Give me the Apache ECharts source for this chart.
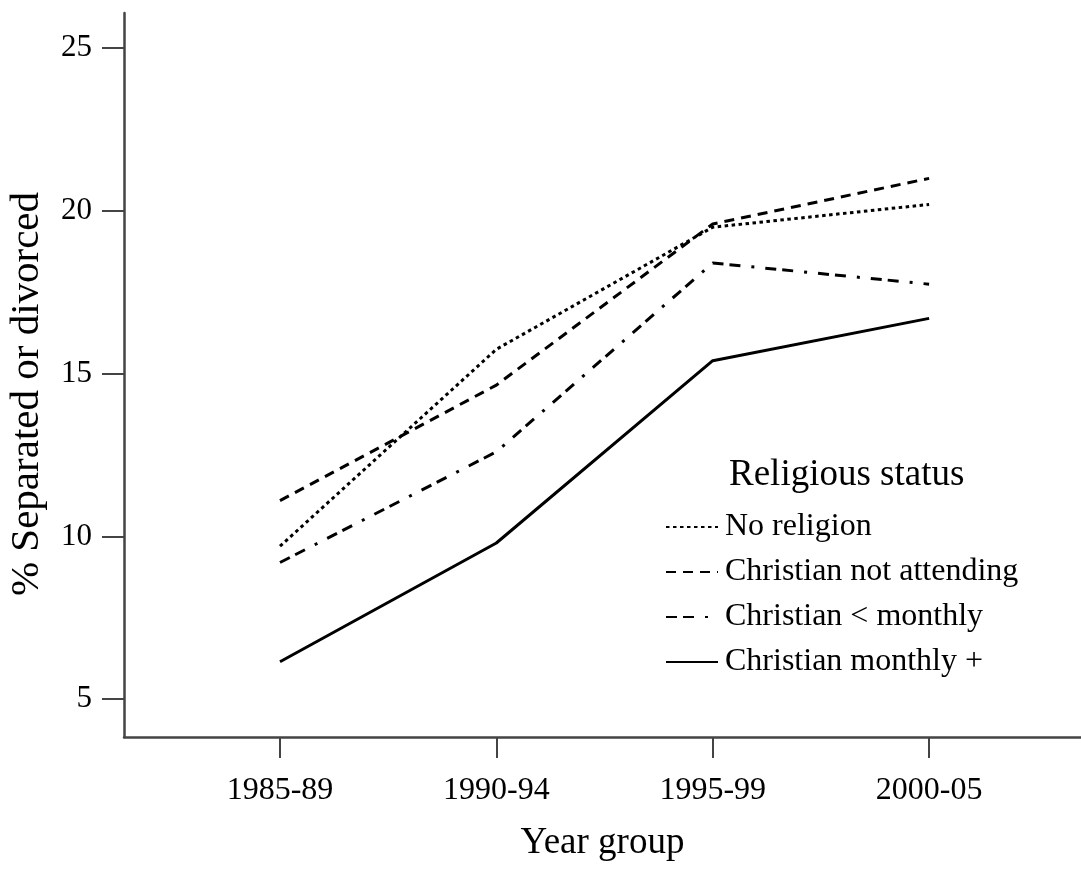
<!DOCTYPE html>
<html>
<head>
<meta charset="utf-8">
<script src="https://cdn.jsdelivr.net/npm/echarts@6/dist/echarts.min.js"></script>
<style>
  html, body { margin: 0; padding: 0; background: #fff; }
  #main { width: 1081px; height: 871px; }
</style>
</head>
<body>
<div id="main"></div>
<script>
var yearGroups = ['1985-89', '1990-94', '1995-99', '2000-05'];
var noReligion = [9.7, 15.75, 19.5, 20.2];
var christianNotAttending = [11.1, 14.65, 19.6, 21.0];
var christianLessMonthly = [9.2, 12.6, 18.4, 17.75];
var christianMonthlyPlus = [6.15, 9.8, 15.4, 16.7];
var yTicks = [5, 10, 15, 20, 25];

var font = 'Liberation Serif';
var myChart = echarts.init(document.getElementById('main'));

function pts(arr) {
    return arr.map(function (v, i) { return [i, v]; });
}

function line(name, arr, type) {
    return {
        name: name,
        type: 'line',
        data: pts(arr),
        symbol: 'none',
        color: '#000',
        lineStyle: { color: '#000', width: 3, type: type },
        emphasis: { disabled: true }
    };
}

var option = {
    backgroundColor: '#fff',
    animation: false,
    title: {
        text: 'Religious status',
        left: 724,
        top: 452,
        textStyle: { fontFamily: font, fontSize: 37, fontWeight: 'normal', color: '#000' }
    },
    legend: {
        orient: 'vertical',
        left: 660,
        top: 504,
        itemWidth: 52,
        itemHeight: 14,
        itemGap: 9,
        selectedMode: false,
        itemStyle: { color: 'rgba(0,0,0,0)', borderWidth: 0 },
        textStyle: { fontFamily: font, fontSize: 32, color: '#000', lineHeight: 36, padding: [0, 0, 0, 2] },
        data: ['No religion', 'Christian not attending', 'Christian < monthly', 'Christian monthly +']
    },
    grid: { left: 124, top: 13, right: 0, bottom: 134, outerBoundsMode: 'none' },
    xAxis: {
        type: 'value',
        min: -0.721,
        max: 3.702,
        name: 'Year group',
        nameLocation: 'middle',
        nameGap: 88,
        nameTextStyle: { fontFamily: font, fontSize: 37, color: '#000' },
        splitLine: { show: false },
        axisLine: { onZero: false, lineStyle: { color: '#444', width: 2.5 } },
        axisTick: { show: true, length: 21, customValues: [0, 1, 2, 3], lineStyle: { color: '#444', width: 2 } },
        axisLabel: {
            customValues: [0, 1, 2, 3],
            margin: 38,
            fontFamily: font,
            fontSize: 32,
            color: '#000',
            formatter: function (v) { return yearGroups[Math.round(v)]; }
        }
    },
    yAxis: {
        type: 'value',
        min: 3.84,
        max: 26.08,
        name: '% Separated or divorced',
        nameLocation: 'middle',
        nameRotate: 90,
        nameGap: 76,
        nameTextStyle: { fontFamily: font, fontSize: 41, color: '#000', padding: [0, 38, 0, 0] },
        splitLine: { show: false },
        axisLine: { show: true, onZero: false, lineStyle: { color: '#444', width: 2.5 } },
        axisTick: { show: true, length: 22, customValues: yTicks, lineStyle: { color: '#444', width: 2 } },
        axisLabel: {
            customValues: yTicks,
            margin: 32,
            fontFamily: font,
            fontSize: 31,
            color: '#000'
        }
    },
    series: [
        line('No religion', noReligion, [3.5, 3.5]),
        line('Christian not attending', christianNotAttending, [10, 7]),
        line('Christian < monthly', christianLessMonthly, [11, 6, 11, 11, 3, 11]),
        line('Christian monthly +', christianMonthlyPlus, 'solid')
    ]
};
myChart.setOption(option);
</script>
</body>
</html>
